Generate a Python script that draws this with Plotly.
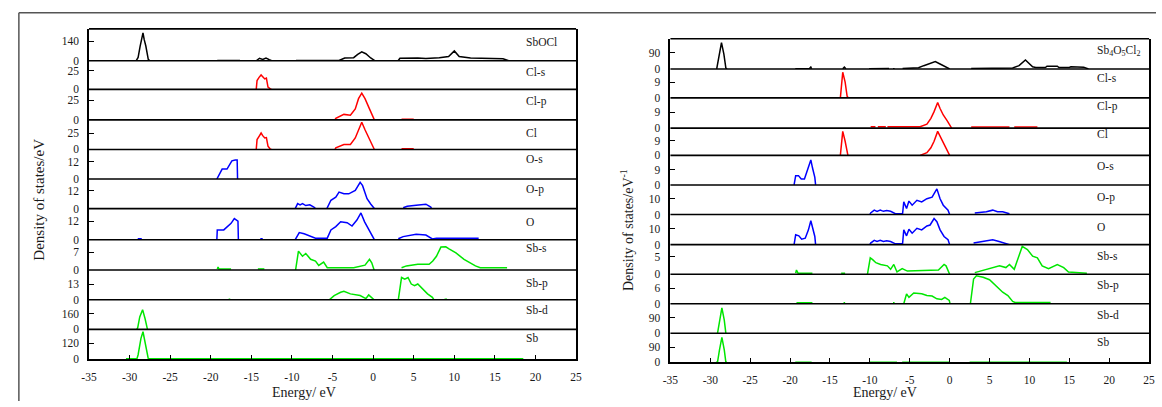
import plotly.graph_objects as go

W, H = 1162, 407

# ---------------- data ----------------
X_TICKS = [-35, -30, -25, -20, -15, -10, -5, 0, 5, 10, 15, 20, 25]
X_RANGE = [-35, 25]

LEFT_LABELS = ["SbOCl", "Cl-s", "Cl-p", "Cl", "O-s", "O-p", "O", "Sb-s", "Sb-p", "Sb-d", "Sb"]
RIGHT_LABELS = ["Sb<sub>4</sub>O<sub>5</sub>Cl<sub>2</sub>", "Cl-s", "Cl-p", "Cl", "O-s", "O-p", "O",
                "Sb-s", "Sb-p", "Sb-d", "Sb"]

LEFT_YTICK = [140, 25, 25, 25, 12, 12, 12, 7, 13, 160, 120]
LEFT_YMAX = [227, 38.2, 38.8, 45, 20.3, 19.6, 20, 11.9, 24.6, 300, 225]
RIGHT_YTICK = [90, 9, 9, 9, 9, 10, 10, 5, 6, 90, 90]
RIGHT_YMAX = [165, 16.5, 17.3, 16.6, 17.5, 18.75, 19.2, 8.5, 11.5, 169, 172]

# ---- left compound (SbOCl) ----
E_L_SbOCl = [-29.2, -28.95, -28.7, -28.5, -28.35, -28.2, -28.0, -27.7, -27.5, None,
             -19.2, -16.4, None, -14.4, -14.0, -13.6, -13.2, -12.8, -12.5, None,
             -9.5, -4.2, -3.5, -2.4, -1.9, -1.4, -0.9, -0.3, 0.24, None,
             3.1, 3.3, 5.5, 6.5, 8.15, 9.3, 10.0, 10.6, 12.0, 15.6, 16.0, 16.7]
D_L_SbOCl = [0, 24, 105, 150, 199, 150, 105, 10, 0, None,
             2, 2, None, 0, 18, 10, 20, 8, 0, None,
             2, 2, 20, 22, 45, 63, 50, 20, 0, None,
             2, 18, 20, 16, 22, 30, 70, 30, 20, 20, 15, 0]

E_L_Cls = [-14.4, -14.3, -14.05, -13.8, -13.6, -13.35, -13.15, -12.95, -12.7, -12.55]
D_L_Cls = [0, 11.8, 16, 19.3, 17, 14, 15, 3, 1, 0]

E_L_Clp = [-4.7, -4.6, -3.6, -2.8, -2.2, -1.8, -1.4, -1.0, -0.45, 0.04, 0.15, None, 3.5, 5.0]
D_L_Clp = [0, 2, 7, 6, 14, 27, 34, 27, 14, 2, 0, None, 0.8, 0.8]

E_L_Cl = [-14.4, -14.3, -14.05, -13.8, -13.6, -13.35, -13.15, -12.95, -12.7, -12.55, None,
          -4.7, -4.6, -3.6, -2.8, -2.2, -1.8, -1.4, -1.0, -0.45, 0.04, 0.15, None, 3.5, 5.0]
D_L_Cl = [0, 15, 20, 25, 21, 17.5, 18, 5, 1, 0, None,
          0, 2.5, 7.5, 7.5, 17.5, 30, 41.5, 30, 15, 2.5, 0, None, 1, 1]

E_L_Os = [-19.25, -19.2, -19.0, -18.6, -18.0, -17.7, -17.4, -17.0, -16.75, -16.7]
D_L_Os = [0, 0.5, 3.4, 6.8, 6.8, 10, 12.5, 13, 13, 0]

E_L_Op = [-9.6, -9.3, -9.0, -8.7, -8.3, -7.8, -7.3, -7.1, None,
          -5.7, -5.2, -4.6, -4.2, -3.6, -3.0, -2.2, -1.9, -1.6, -1.3, -1.0, -0.75, -0.3, 0.04, 0.15, None,
          3.7, 4.2, 5.3, 6.5, 7.1, 7.2]
D_L_Op = [0, 3.3, 2.5, 3.3, 2, 2.5, 1, 0, None,
          0, 5.5, 7.6, 10.9, 9.8, 9.8, 12, 15.2, 17.4, 15.2, 9.8, 6.5, 3, 1, 0, None,
          0.5, 1.5, 2.2, 2.9, 1, 0]

E_L_O = [-29.0, -28.5, None, -19.25, -19.2, -18.4, -18.0, -17.5, -17.1, -16.65, -16.6, None,
         -13.9, -13.6, None, -9.6, -9.5, -9.1, -8.5, -7.9, -7.1, -5.65, -5.2, -4.6, -4.0, -3.2,
         -2.6, -2.0, -1.5, -1.05, -0.55, 0.04, 0.15, None, 3.1, 3.7, 5.3, 6.5, 7.3, 7.8, 13.0]
D_L_O = [0.6, 0.6, None, 0, 6.3, 6.3, 8, 10.5, 13.6, 12, 0, None,
         0.6, 0.6, None, 0, 1, 4.6, 3.8, 2.6, 1, 1, 6.3, 8.4, 11.5, 10.9,
         8.8, 12.6, 17.2, 11.5, 6.3, 1, 0, None, 0.6, 2, 3.5, 3, 0.5, 1, 1]

E_L_Sbs = [-19.2, -19.1, -19.0, -17.5, None, -14.2, -13.4, None,
           -9.55, -9.5, -9.2, -8.7, -8.3, -7.7, -7.1, -6.7, -6.1, -5.65, -2.4, -1.0, -0.45, -0.17, 0.12, None,
           3.5, 4.1, 5.5, 6.9, 7.35, 7.8, 8.35, 8.95, 9.35, 10.2, 11.2, 12.2, 12.6, 13.2, 16.5]
D_L_Sbs = [0.4, 1.2, 0.4, 0.4, None, 0.4, 0.4, None,
           0, 0.9, 7.4, 5.4, 6.5, 4.2, 3.5, 1.8, 3.1, 0.9, 0.9, 1.9, 4.2, 2.8, 0, None,
           0.9, 1.6, 2.2, 2.2, 3.5, 5.4, 9, 9.1, 8.3, 6.7, 4.2, 2.2, 1.6, 0.9, 0.9]

E_L_Sbp = [-17.8, -17.6, None, -5.4, -4.8, -4.0, -3.6, -2.8, -1.6, -0.9, -0.55, 0.12, None,
           3.1, 3.5, 3.9, 4.3, 4.7, 5.1, 5.5, 6.1, 6.7, 7.3, 7.5, None, 8.8, 9.1]
D_L_Sbp = [0.4, 0.4, None, 0, 3.5, 6.2, 7, 4.9, 3.5, 1, 4, 0, None,
           0, 18.4, 17, 18.4, 13, 11.6, 13, 9, 4.9, 2, 0, None, 0.5, 0.5]

E_L_Sbd = [-29.1, -29.0, -28.75, -28.4, -28.1, -27.85, -27.8]
D_L_Sbd = [0, 17, 126, 200, 110, 5, 0]

E_L_Sb = [-30.45, -30.1, -30.0, -29.9, -29.1, -28.95, -28.6, -28.35, -28.0, -27.7, -27.5,
          -9.4, -9.3, -9.2, 5.4, 5.5, 5.6, 6.0, 6.1, 6.2, 18.5]
D_L_Sb = [0.5, 0.5, 5, 0.5, 0.5, 32, 157, 207, 87, 2, 0.5,
          0.5, 4, 0.5, 0.5, 4, 0.5, 0.5, 3, 0.5, 0.5]

# ---- right compound ----
E_R_tot = [-29.2, -28.9, -28.6, -28.3, -28.05, -27.9, None, -19.35, -17.6, -17.4, -17.3, None,
           -13.4, -13.2, -13.0, None, -10.1, -7.6, None, -7.1, -6.9, None,
           -5.9, -3.9, -3.25, -2.6, -1.8, -1.2, -0.6, 0.0, None,
           2.7, 7.9, 8.7, 9.5, 10.4, 10.8, 12.0, 12.2, 13.5, 13.7, 15.0, 15.2, 16.8, 17.4]
D_R_tot = [0, 72, 144, 81, 5, 0, None, 1, 1, 10, 1, None,
           1, 10, 1, None, 1, 2, None, 1, 1, None,
           2, 7, 18, 27, 40, 27, 12, 0, None,
           2, 5, 18, 49, 12, 8, 8, 15, 15, 8, 8, 12, 10, 0]

E_R_Cls = [-13.7, -13.6, -13.4, -13.1, -12.85, -12.7]
D_R_Cls = [0, 6.2, 14.6, 9, 0.9, 0]

E_R_Clp = [-9.9, -9.3, None, -9.0, -8.0, None, -7.8, -3.7, -2.85, -2.35, -1.95, -1.5, -1.2, -0.8,
           -0.3, 0.25, None, 2.7, 7.5, None, 8.1, 11.0]
D_R_Clp = [0.8, 0.8, None, 0.8, 0.8, None, 0.8, 0.8, 2.2, 5.6, 9.4, 14.6, 11.2, 7.5,
           4.1, 0, None, 0.6, 0.6, None, 0.6, 0.6]

E_R_Cl = [-13.7, -13.6, -13.4, -13.1, -12.8, -12.75, None,
          -3.7, -2.85, -2.35, -1.95, -1.5, -1.1, -0.7, -0.15, 0.0]
D_R_Cl = [0, 5.6, 14.6, 8.6, 0.5, 0, None,
          0, 1.6, 4.6, 8.6, 14.6, 10.6, 6.6, 1.6, 0]

E_R_Os = [-19.5, -19.3, -18.95, -18.6, -18.2, -17.8, -17.4, -17.2, -16.9, -16.8]
D_R_Os = [0, 5.5, 5.5, 3.5, 3.5, 9.3, 14.8, 10.3, 4.5, 0]

E_R_Op = [-10.0, -9.9, -9.45, -9.1, -8.7, -8.3, -7.9, -7.4, -6.8, -5.9, -5.75, -5.4, -5.1, -4.7,
          -4.1, -3.5, -2.85, -2.2, -1.6, -1.2, -0.8, -0.2, 0.0, None,
          3.15, 4.6, 5.4, 6.0, 6.65, 7.5]
D_R_Op = [0, 1, 2.75, 2, 2.75, 2, 2.5, 2, 0.5, 0.5, 8, 3.75, 8.5, 5.9,
          9, 8, 10, 11, 16.25, 10, 5.9, 2.75, 0, None,
          1, 1.7, 2.75, 1.7, 1.7, 0.5]

E_R_O = [-19.5, -19.3, -18.9, -18.55, -18.1, -17.7, -17.4, -17.2, -16.9, -16.8, None,
         -10.0, -9.9, -9.45, -9.1, -8.7, -8.3, -7.9, -7.4, -6.8, -5.9, -5.75, -5.4, -5.1, -4.7,
         -4.1, -3.5, -2.85, -2.45, -1.95, -1.6, -1.2, -0.7, -0.2, 0.0, None,
         3.0, 4.6, 5.4, 6.2, 7.5]
D_R_O = [0, 6.25, 5.6, 3.5, 4.1, 9.4, 15.2, 10.4, 5.2, 0, None,
         0, 1, 2.7, 2, 2.7, 2, 2.5, 2, 0.5, 0.5, 9.4, 5.6, 9.8, 7.3,
         10.4, 9.4, 11.9, 12.5, 16.6, 14.6, 9.4, 5.2, 3.1, 0, None,
         1, 2.7, 3.1, 2, 0]

E_R_Sbs = [-19.3, -19.2, -19.0, -17.2, None, -13.6, -13.1, None,
           -10.3, -9.95, -9.65, -9.25, -8.65, -7.8, -7.4, -7.0, -6.6, -5.95, -5.3, -1.4, -0.7, -0.45, 0.0, None,
           3.15, 5.0, 6.25, 7.05, 7.5, 8.1, 8.5, 9.1, 9.75, 10.4, 11.0, 11.6, 12.4, 13.5, 14.3, 14.9, 17.2]
D_R_Sbs = [0.3, 1.2, 0.3, 0.3, None, 0.3, 0.3, None,
           0, 4.7, 4.2, 3.3, 2.8, 2.4, 1.4, 2.8, 0.65, 1.6, 0.9, 1.2, 2.8, 2.4, 0, None,
           0.45, 1.6, 2.4, 1.9, 2.8, 1.4, 4.3, 8.0, 7.1, 5.2, 4.7, 2.4, 1.6, 2.8, 1.9, 0.65, 0.3]

E_R_Sbp = [-19.2, -17.2, None, -13.3, -13.1, None, -7.1, -6.9, None,
           -5.75, -5.4, -5.1, -4.5, -3.5, -2.85, -2.2, -1.6, -1.0, -0.6, -0.05, 0.05, None,
           2.6, 3.0, 3.35, 4.2, 5.0, 5.6, 6.05, 6.65, 7.3, 7.9, 8.2, 12.65]
D_R_Sbp = [0.4, 0.4, None, 0.4, 0.4, None, 0.4, 0.4, None,
           0, 3.85, 2.5, 4.2, 3.85, 3.2, 3.0, 1.9, 1.7, 2.5, 1.3, 0, None,
           0, 9.6, 10.9, 10.3, 9.35, 7.7, 6.4, 4.5, 3.2, 0.9, 0.5, 0.5]

E_R_Sbd = [-29.1, -28.85, -28.55, -28.25, -28.05]
D_R_Sbd = [0, 60, 146, 75, 0]

E_R_Sb = [-29.3, -29.1, -28.85, -28.55, -28.25, -28.05, -27.9, None, -19.35, -17.3, None,
          -10.1, -6.6, None, -5.95, 0.0, None, 2.5, 14.7]
D_R_Sb = [0.8, 0, 74, 148, 74, 0, 0.8, None, 0.8, 0.8, None,
          0.8, 0.8, None, 0.8, 0.8, None, 0.8, 0.8]

LEFT_E = [E_L_SbOCl, E_L_Cls, E_L_Clp, E_L_Cl, E_L_Os, E_L_Op, E_L_O, E_L_Sbs, E_L_Sbp, E_L_Sbd, E_L_Sb]
LEFT_D = [D_L_SbOCl, D_L_Cls, D_L_Clp, D_L_Cl, D_L_Os, D_L_Op, D_L_O, D_L_Sbs, D_L_Sbp, D_L_Sbd, D_L_Sb]
RIGHT_E = [E_R_tot, E_R_Cls, E_R_Clp, E_R_Cl, E_R_Os, E_R_Op, E_R_O, E_R_Sbs, E_R_Sbp, E_R_Sbd, E_R_Sb]
RIGHT_D = [D_R_tot, D_R_Cls, D_R_Clp, D_R_Cl, D_R_Os, D_R_Op, D_R_O, D_R_Sbs, D_R_Sbp, D_R_Sbd, D_R_Sb]

# ---------------- style / layout ----------------
C_BLACK, C_RED, C_BLUE, C_GREEN = "#000000", "#ff0000", "#0000ff", "#00e600"
PANEL_COLORS = [C_BLACK, C_RED, C_RED, C_RED, C_BLUE, C_BLUE, C_BLUE, C_GREEN, C_GREEN, C_GREEN, C_GREEN]

LEFT_X_PX = (82, 575)
RIGHT_X_PX = (670.5, 1155)
LEFT_BOUNDS = [29.3, 61.7, 90.7, 121.7, 151.7, 181.7, 211.7, 243.3, 274, 304.3, 334.3, 364.3]
RIGHT_BOUNDS = [39.3, 70, 99.3, 130, 157.7, 187.7, 217.7, 248.3, 278.3, 308.3, 338.3, 367.7]
LEFT_LABEL_Y = [42.7, 72.7, 103, 135, 161.7, 192.7, 225, 251.7, 288, 315, 343]
RIGHT_LABEL_Y = [51.7, 79, 108.3, 136, 168.3, 200, 230, 260, 290, 319.3, 346.7]

FONT = "Liberation Serif"
TICK_FONT = dict(family=FONT, size=11.5, color="#1a1a1a")


def px_x(p):
    return p / W


def px_y(p):
    return 1 - p / H


fig = go.Figure()
layout = dict(
    width=W, height=H, margin=dict(l=0, r=0, t=0, b=0),
    paper_bgcolor="white", plot_bgcolor="white", showlegend=False,
)
shapes = []
annotations = []

sides = [
    ("x", "xaxis", LEFT_X_PX, LEFT_BOUNDS, LEFT_E, LEFT_D, LEFT_YTICK, LEFT_YMAX, LEFT_LABELS, LEFT_LABEL_Y, 0, 522),
    ("x2", "xaxis2", RIGHT_X_PX, RIGHT_BOUNDS, RIGHT_E, RIGHT_D, RIGHT_YTICK, RIGHT_YMAX, RIGHT_LABELS,
     RIGHT_LABEL_Y, 11, 1100),
]

for (xref, xname, xpx, bounds, Es, Ds, yt, ym, labels, laby, off, labx) in sides:
    n = len(Es)
    for i in range(n):
        k = off + i + 1
        ykey = "yaxis" if k == 1 else f"yaxis{k}"
        yref = "y" if k == 1 else f"y{k}"
        layout[ykey] = dict(
            domain=[px_y(bounds[i + 1]), px_y(bounds[i])],
            range=[0, ym[i]], anchor=xref,
            tickmode="array", tickvals=[0, yt[i]], ticktext=["0", str(yt[i])],
            ticks="inside", ticklen=5, tickwidth=1.4, tickcolor="black",
            showline=True, linecolor="black", linewidth=1.6, mirror=True,
            showgrid=False, zeroline=False, tickfont=TICK_FONT, ticklabelstandoff=6,
            fixedrange=True,
        )
        fig.add_trace(go.Scatter(
            x=Es[i], y=Ds[i], mode="lines", xaxis=xref, yaxis=yref,
            line=dict(color=PANEL_COLORS[i], width=1.5), connectgaps=False,
            hoverinfo="skip",
        ))
        annotations.append(dict(
            x=px_x(labx), y=px_y(laby[i]), xref="paper", yref="paper",
            text=labels[i], showarrow=False, xanchor="left", yanchor="middle",
            font=dict(family=FONT, size=11.5, color="#1a1a1a"),
        ))
    # horizontal separators
    for b in bounds[:-1]:
        shapes.append(dict(type="line", xref="paper", yref="paper",
                           x0=px_x(xpx[0]), x1=px_x(xpx[1]), y0=px_y(b), y1=px_y(b),
                           line=dict(color="black", width=1.6)))
    bottom_y = "y11" if off == 0 else "y22"
    layout[xname] = dict(
        domain=[px_x(xpx[0]), px_x(xpx[1])], range=X_RANGE, anchor=bottom_y,
        tickmode="array", tickvals=X_TICKS, ticktext=[str(t) for t in X_TICKS],
        ticks="inside", ticklen=4, tickwidth=1.4, tickcolor="black",
        showline=True, linecolor="black", linewidth=1.6, mirror=False,
        showgrid=False, zeroline=False, tickfont=TICK_FONT, ticklabelstandoff=6,
        fixedrange=True,
    )

TITLE_FONT = dict(family=FONT, size=14, color="#1a1a1a")
# axis titles
annotations.append(dict(x=px_x(300), y=px_y(398), xref="paper", yref="paper", text="Energy/ eV",
                        xanchor="center", yanchor="middle", showarrow=False, font=TITLE_FONT))
annotations.append(dict(x=px_x(888), y=px_y(398), xref="paper", yref="paper", text="Energy/ eV",
                        xanchor="center", yanchor="middle", showarrow=False, font=TITLE_FONT))
annotations.append(dict(x=px_x(31), y=px_y(203), xref="paper", yref="paper", text="Density of states/eV",
                        xanchor="center", yanchor="middle", showarrow=False, textangle=-90,
                        font=dict(family=FONT, size=15, color="#1a1a1a")))
annotations.append(dict(x=px_x(626), y=px_y(233), xref="paper", yref="paper",
                        text="Density of states/eV<sup>-1</sup>", xanchor="center", yanchor="middle",
                        showarrow=False, textangle=-90, font=TITLE_FONT))

# outer frame
shapes.append(dict(type="line", xref="paper", yref="paper", x0=px_x(11), x1=1, y0=px_y(13), y1=px_y(13),
                   line=dict(color="#555555", width=1.5)))
shapes.append(dict(type="line", xref="paper", yref="paper", x0=px_x(11), x1=px_x(11), y0=px_y(13), y1=0,
                   line=dict(color="#555555", width=1.5)))

layout["shapes"] = shapes
layout["annotations"] = annotations
fig.update_layout(**layout)
fig.write_html("out.html")
